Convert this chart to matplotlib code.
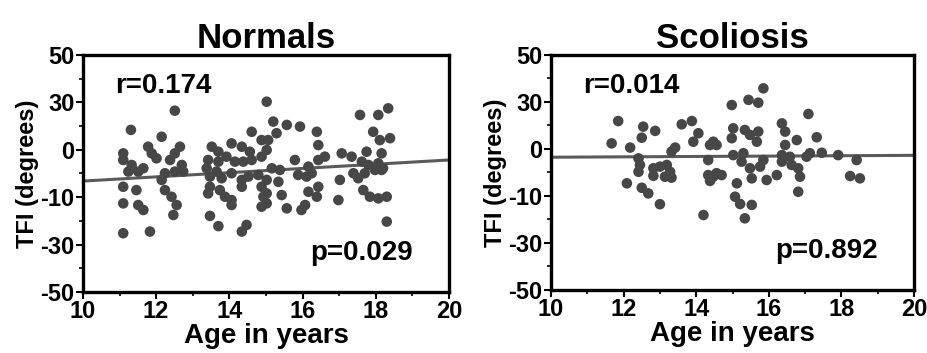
import numpy as np
import matplotlib.pyplot as plt
from matplotlib.ticker import MultipleLocator

plt.rcParams['font.family'] = ['Liberation Sans', 'DejaVu Sans']
plt.rcParams['font.weight'] = 'bold'

# Normals: age (years) and TFI (degrees, in axis units)
norm_age = [12.51, 11.31, 12.15, 11.10, 11.10, 11.78, 11.88, 12.01, 12.65, 12.51,
            12.38, 12.70, 11.33, 11.24, 11.51, 11.65, 12.24, 12.51, 12.74, 12.15,
            11.10, 11.46, 12.24, 11.10, 11.51, 11.65, 12.42, 12.56, 12.47, 11.10,
            11.83,
            13.52, 13.70, 14.06, 14.34, 14.61, 14.56, 14.88, 15.02, 13.42, 13.38,
            13.70, 13.92, 14.15, 14.38, 14.61, 14.88, 13.47, 13.65, 13.79, 14.06,
            14.34, 14.52, 14.79, 13.47, 13.42, 13.74, 13.88, 14.06, 14.06, 14.34,
            14.88, 14.93, 14.88, 13.47, 13.70, 14.47, 14.34,
            15.20, 15.29, 15.06, 15.02, 15.57, 15.93, 16.39, 16.43, 16.61, 16.43,
            15.79, 15.16, 15.38, 15.88, 16.16, 16.25, 16.11, 15.34, 15.02, 15.02,
            15.02, 15.43, 15.57, 16.07, 16.16, 16.43, 16.39, 15.97,
            17.02, 16.98, 17.07, 17.34, 17.39, 17.62, 17.57, 17.75, 17.93, 18.07,
            18.34, 18.11, 18.39, 18.16, 17.80, 17.98, 18.20, 18.07, 17.70, 17.52,
            17.66, 17.84, 18.07, 18.30, 18.30, 18.16]
norm_tfi = [26.5, 18.4, 15.5, 8.5, 5.7, 11.3, 8.5, 6.4, 11.3, 8.5,
            5.7, 3.6, 3.6, 0.8, 0.8, 2.2, 0.1, 0.8, 0.8, -2.7,
            -5.6, -7.0, -7.0, -12.6, -13.3, -15.4, -9.8, -13.3, -17.5, -25.2,
            -24.5,
            11.3, 9.2, 12.7, 11.3, 17.6, 9.2, 14.1, 30.3, 5.7, 2.2,
            5.0, 7.1, 5.0, 5.0, 5.7, 7.1, -1.3, 0.8, -2.0, 0.1,
            -2.7, -1.3, -0.6, -5.6, -8.4, -7.0, -9.8, -11.2, -13.3, -5.6,
            -5.6, -9.8, -14.0, -17.9, -22.2, -21.7, -24.5,
            21.9, 17.0, 14.1, 9.9, 20.5, 19.8, 17.6, 12.0, 7.1, 5.7,
            5.7, 2.2, 1.5, -0.6, 2.9, 0.1, -1.3, -3.5, -2.7, -8.4,
            -12.6, -9.1, -14.7, -13.3, -7.7, -5.6, -9.8, -15.4,
            -2.7, -11.2, 8.5, 7.1, 0.1, 5.0, 24.7, 9.2, 17.6, 24.7,
            27.5, 14.1, 14.9, 8.5, 3.6, 1.5, 2.2, 4.3, 0.1, -2.0,
            -7.0, -9.8, -10.5, -9.8, -20.3, 1.5]

# Scoliosis
scol_age = [11.85, 11.67, 12.18, 12.54, 12.87, 12.50, 12.41, 12.45, 12.41, 12.09,
            12.50, 12.68, 13.00, 12.82, 12.82, 13.00, 13.19, 13.28, 13.14, 13.32,
            13.32, 13.42, 13.60, 13.88, 14.06, 13.92, 14.20, 14.33, 14.38, 14.33,
            14.38, 14.56,
            15.85, 14.98, 15.44, 15.71, 17.09, 16.36, 16.45, 16.77, 17.32, 15.02,
            14.98, 15.34, 15.48, 15.71, 15.67, 14.47, 14.56, 15.02, 15.30, 15.25,
            15.48, 15.76, 15.85, 14.47, 14.70, 15.53, 15.94, 16.22, 15.12, 15.07,
            15.21, 15.53, 15.34, 16.45, 16.36, 16.36, 16.58, 16.63, 16.81, 16.86,
            16.81, 17.04, 17.13, 17.46, 17.91, 18.42, 18.24, 18.51]
scol_tfi = [21.9, 12.4, 10.6, 19.5, 17.7, 14.8, 6.0, 3.2, 0.3, -4.6,
            -6.5, -8.9, -13.5, 1.8, -1.4, 2.5, 3.2, 0.3, -1.8, -2.2,
            8.9, 10.6, 20.5, 21.9, 16.7, 13.1, -18.1, 5.3, 11.7, -1.1,
            -3.6, -0.3,
            35.8, 28.7, 30.9, 29.7, 24.9, 20.9, 17.4, 13.8, 15.0, 18.8,
            14.6, 18.1, 16.0, 17.4, 13.1, 13.1, 11.7, 7.4, 8.2, 4.6,
            1.8, 2.5, 5.3, -1.8, -1.1, -2.5, -3.2, -1.1, -4.6, -10.3,
            -13.4, -13.8, -19.5, 11.7, 7.4, 4.6, 6.7, 3.2, 1.8, -1.8,
            -8.2, 6.7, 8.2, 8.4, 7.4, 5.3, -1.5, -2.5]

# regression lines (end points at age 10 and 20)
norm_fit = [-3.2, 5.7]
scol_fit = [6.5, 7.3]
fit_age = [10, 20]

ytick_pos = [50, 30, 10, -10, -30, -50]
ytick_lab = ['50', '30', '0', '-10', '-30', '-50']

fig = plt.figure(figsize=(9.27, 3.53), dpi=100)
ax1 = fig.add_axes([0.0895, 0.1728, 0.3948, 0.6714])
ax2 = fig.add_axes([0.5944, 0.1785, 0.3916, 0.6657])

panels = [
    (ax1, norm_age, norm_tfi, norm_fit, 'Normals', 'r=0.174', 'p=0.029'),
    (ax2, scol_age, scol_tfi, scol_fit, 'Scoliosis', 'r=0.014', 'p=0.892'),
]

for ax, age, tfi, fit, title, rtxt, ptxt in panels:
    ax.plot(fit_age, fit, color='#5a5a5a', lw=2.2, zorder=2)
    ax.scatter(age, tfi, s=58, color='#474747', edgecolors='none', zorder=3)
    ax.set_xlim(10, 20)
    ax.set_ylim(-50, 50)
    ax.set_xticks([10, 12, 14, 16, 18, 20])
    ax.xaxis.set_minor_locator(MultipleLocator(1))
    ax.set_yticks(ytick_pos)
    ax.set_yticklabels(ytick_lab)
    ax.yaxis.set_minor_locator(MultipleLocator(10))
    ax.tick_params(which='major', direction='out', length=5, width=1.5,
                   labelsize=17, pad=1)
    ax.tick_params(which='minor', direction='out', length=3, width=1.2)
    for lab in ax.get_xticklabels() + ax.get_yticklabels():
        lab.set_fontweight('bold')
    for sp in ax.spines.values():
        sp.set_linewidth(2.4)
    ax.set_title(title, fontsize=25, fontweight='bold', pad=5)
    ax.set_xlabel('Age in years', fontsize=20, fontweight='bold', labelpad=0)
    ax.set_ylabel('TFI (degrees)', fontsize=17, fontweight='bold', labelpad=1)
    ax.text(0.22, 0.87, rtxt, transform=ax.transAxes, fontsize=20,
            fontweight='bold', ha='center', va='center')
    ax.text(0.76, 0.165, ptxt, transform=ax.transAxes, fontsize=20,
            fontweight='bold', ha='center', va='center')

fig.savefig('out.png', dpi=100)
